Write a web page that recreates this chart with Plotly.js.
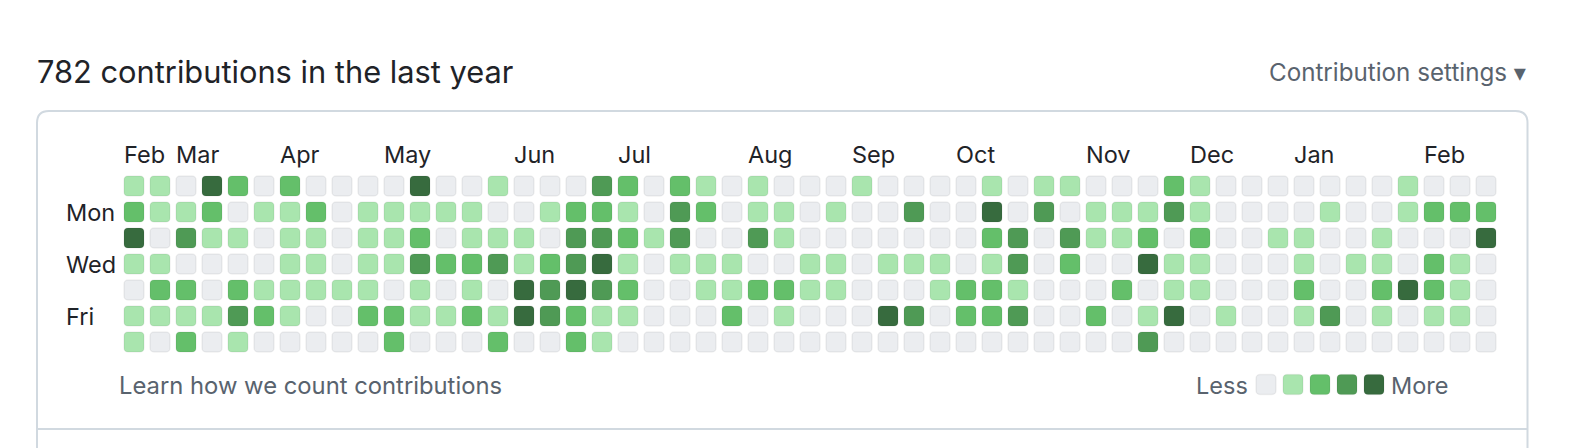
<!DOCTYPE html>
<html>
<head>
<meta charset="utf-8">
<script src="https://cdn.plot.ly/plotly-3.0.1.min.js"></script>
<style>
  html, body { margin: 0; padding: 0; background: #ffffff; }
  #chart { width: 1576px; height: 448px; }
</style>
</head>
<body>
<div id="chart"></div>
<script>
// ---- Data: contribution level (0-4) per week column, one array per weekday ----
const sun = [1,1,0,4,2,0,2,0,0,0,0,4,0, 0,1,0,0,0,3,2,0,2,1,0,1,0, 0,0,1,0,0,0,0,1,0,1,1,0,0, 0,2,1,0,0,0,0,0,0,0,1,0,0,0];
const mon = [2,1,1,2,0,1,1,2,0,1,1,1,1, 1,0,0,1,2,2,1,0,3,2,0,1,1, 0,1,0,0,3,0,0,4,0,3,0,1,1, 1,3,1,0,0,0,0,1,0,0,1,2,2,2];
const tue = [4,0,3,1,1,0,1,1,0,1,1,2,0, 1,1,1,0,3,3,2,1,3,0,0,3,1, 0,0,0,0,0,0,0,2,3,0,3,1,1, 2,0,2,0,0,1,1,0,0,1,0,0,0,4];
const wed = [1,1,0,0,0,0,1,1,0,1,1,3,2, 2,3,1,2,3,4,1,0,1,1,1,0,0, 1,1,0,1,1,1,0,1,3,0,2,0,0, 4,1,1,0,0,0,1,0,1,1,0,2,1,0];
const thu = [0,2,2,0,2,1,1,1,1,1,0,1,0, 1,0,4,3,4,3,2,0,0,1,1,2,2, 1,1,0,0,0,1,2,2,1,0,0,0,2, 0,1,1,0,0,0,2,0,0,2,4,2,1,0];
const fri = [1,1,1,1,3,2,1,0,0,2,2,1,1, 2,1,4,3,2,1,1,0,0,0,2,0,1, 0,0,0,4,3,0,2,2,3,0,0,2,0, 1,4,0,1,0,0,1,3,0,1,0,1,1,0];
const sat = [1,0,2,0,1,0,0,0,0,0,2,0,0, 0,2,0,0,2,1,0,0,0,0,0,0,0, 0,0,0,0,0,0,0,0,0,0,0,0,0, 3,0,0,0,0,0,0,0,0,0,0,0,0,0];

const monthLabels = ["Feb","Mar","Apr","May","Jun","Jul","Aug","Sep","Oct","Nov","Dec","Jan","Feb"];
const monthWeeks  = [0, 2, 6, 10, 15, 19, 24, 28, 32, 37, 41, 45, 50];
const dayLabels   = ["Mon","Wed","Fri"];
const dayRows     = [1, 3, 5];
const legendLevels = [0, 1, 2, 3, 4];
const totalText = "782 contributions in the last year";

// ---- Style ----
const W = 1576, H = 448;
const CELL = 26;            // px per week / day step
const X0 = 134, Y0 = 186;   // px centre of first cell
const SIZE = 20;            // px cell size
const levelColors = ["#ebedf0", "#a9e5ae", "#64bf6a", "#4f9a55", "#376b3e"];
const FONT = "Inter, 'Noto Sans', 'DejaVu Sans', sans-serif";
const dark = "#1f2328", muted = "#59636e", border = "#d1d9e0";
const LBL = 23.5;

const rows = [sun, mon, tue, wed, thu, fri, sat];
const cw = SIZE / CELL;

const xs = [], bases = [], hs = [], cols = [];
rows.forEach((arr, d) => {
  arr.forEach((lvl, w) => {
    xs.push(w); bases.push(d - cw / 2); hs.push(cw); cols.push(levelColors[lvl]);
  });
});

const cells = {
  type: "bar", x: xs, y: hs, base: bases, width: cw,
  marker: { color: cols, cornerradius: 4, line: { color: "rgba(31,35,40,0.06)", width: 1.5 } },
  hoverinfo: "skip", showlegend: false
};

const LEG_X0 = (1266 - X0) / CELL, LEG_DX = 27 / CELL, LEG_Y = (384.5 - Y0) / CELL;
const legend = {
  type: "bar",
  x: legendLevels.map(k => LEG_X0 + k * LEG_DX),
  y: legendLevels.map(() => cw),
  base: legendLevels.map(() => LEG_Y - cw / 2),
  width: cw,
  marker: { color: legendLevels.map(k => levelColors[k]), cornerradius: 4, line: { color: "rgba(31,35,40,0.06)", width: 1.5 } },
  hoverinfo: "skip", showlegend: false
};

const px = v => v / W, py = v => 1 - v / H;
const P = (x, y) => px(x) + "," + py(y);

const annotations = [];
annotations.push({ xref: "paper", yref: "paper", x: px(35), y: py(71.5), xanchor: "left", yanchor: "middle",
  text: totalText, showarrow: false, font: { family: FONT, size: 30.8, color: dark } });
annotations.push({ xref: "paper", yref: "paper", x: px(1529), y: py(72), xanchor: "right", yanchor: "middle",
  text: "Contribution settings ▾", showarrow: false, font: { family: FONT, size: 24.2, color: muted } });
monthLabels.forEach((m, i) => annotations.push({ xref: "x", yref: "paper",
  x: monthWeeks[i] - cw / 2, y: py(154), xanchor: "left", yanchor: "middle", xshift: -2,
  text: m, showarrow: false, font: { family: FONT, size: LBL, color: dark } }));
dayLabels.forEach((d, i) => annotations.push({ xref: "paper", yref: "y",
  x: px(64), y: dayRows[i], xanchor: "left", yanchor: "middle",
  text: d, showarrow: false, font: { family: FONT, size: LBL, color: dark } }));
annotations.push({ xref: "paper", yref: "paper", x: px(117), y: py(385), xanchor: "left", yanchor: "middle",
  text: "Learn how we count contributions", showarrow: false, font: { family: FONT, size: 23.8, color: muted } });
annotations.push({ xref: "paper", yref: "paper", x: px(1250), y: py(385), xanchor: "right", yanchor: "middle",
  text: "Less", showarrow: false, font: { family: FONT, size: LBL, color: muted } });
annotations.push({ xref: "paper", yref: "paper", x: px(1389), y: py(385), xanchor: "left", yanchor: "middle",
  text: "More", showarrow: false, font: { family: FONT, size: LBL, color: muted } });

const R = 12;
const boxPath = "M" + P(37, 470) + " L" + P(37, 111 + R) + " Q" + P(37, 111) + " " + P(37 + R, 111) +
  " L" + P(1527.5 - R, 111) + " Q" + P(1527.5, 111) + " " + P(1527.5, 111 + R) + " L" + P(1527.5, 470);

const layout = {
  width: W, height: H,
  margin: { l: 0, r: 0, t: 0, b: 0, pad: 0 },
  paper_bgcolor: "#ffffff", plot_bgcolor: "#ffffff",
  barmode: "overlay",
  xaxis: { range: [-X0 / CELL, (W - X0) / CELL], visible: false, fixedrange: true },
  yaxis: { range: [(H - Y0) / CELL, -Y0 / CELL], visible: false, fixedrange: true },
  showlegend: false,
  annotations: annotations,
  shapes: [
    { type: "path", xref: "paper", yref: "paper", path: boxPath, line: { color: border, width: 2 }, layer: "below" },
    { type: "line", xref: "paper", yref: "paper", x0: px(37), x1: px(1527.5), y0: py(429), y1: py(429), line: { color: border, width: 2 }, layer: "below" }
  ]
};

Plotly.newPlot("chart", [cells, legend], layout, { staticPlot: true, displayModeBar: false });
</script>
</body>
</html>
